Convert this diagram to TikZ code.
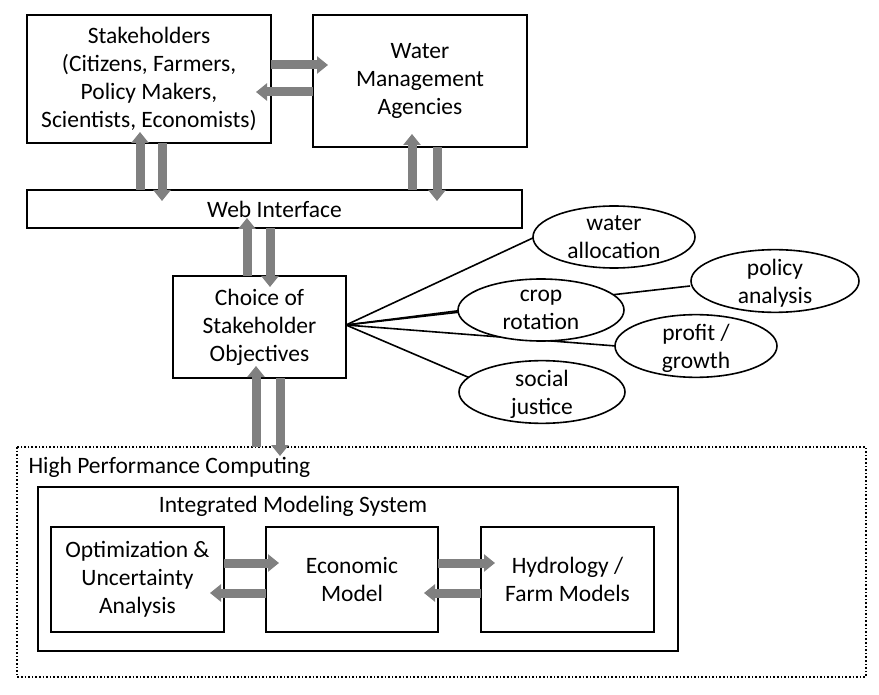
\documentclass[tikz,border=0pt]{standalone}
\usepackage{fontspec}
\setmainfont{Carlito}
\usetikzlibrary{shapes.geometric,arrows.meta,positioning,calc}
\tikzset{
  box/.style={draw,line width=1.6pt,align=center},
  goal/.style={draw,fill=white,ellipse,line width=1.6pt,minimum width=162pt,minimum height=62pt,align=center,inner sep=0pt,text depth=-2pt},
  fat/.style={line width=9pt,draw=black!50,-{Triangle[width=17pt,length=11pt]}},
}
\begin{document}
\begin{tikzpicture}[x=1pt,y=-1pt,font=\fontsize{23.5}{28}\selectfont]
            \useasboundingbox (0,0) rectangle (879,695);
            % boxes on top
            \node[box,minimum width=244pt,minimum height=128pt] (stake) at (149,79) {Stakeholders\\(Citizens, Farmers,\\Policy Makers,\\Scientists, Economists)};
            \node[box,minimum width=214pt,minimum height=132pt] (water) at (420,81) {Water\\Management\\Agencies};
            \node[box,minimum width=495pt,minimum height=38pt] (web) at (274.5,209) {Web Interface};
            \node[box,minimum width=173pt,minimum height=102pt] (choice) at (259.5,327) {Choice of\\Stakeholder\\Objectives};

            % objectives
            \coordinate (hub) at (346,325);
            \draw[line width=1.6pt] (hub) -- (535,237);
            \draw[line width=1.6pt] (hub) -- (690,286);
            \draw[line width=1.6pt] (hub) -- (480,308);
            \draw[line width=1.6pt] (hub) -- (616,346);
            \draw[line width=1.6pt] (hub) -- (470,378);
            \node[goal] (alloc) at (614,237) {water\\allocation};
            \node[goal,minimum width=168pt] (policy) at (775,281) {policy\\analysis};
            \node[goal,minimum width=166pt] (crop) at (541,310) {crop\\rotation};
            \node[goal] (profit) at (696,346) {profit /\\growth};
            \node[goal,minimum width=166pt] (social) at (542,392) {social\\justice};

            % computing part
            \draw[line width=1.6pt,dotted] (17,447) rectangle (866,677);
            \node[anchor=west] (hpc) at (25,467) {High Performance Computing};
            \draw[line width=1.6pt] (38,487) rectangle (678,651);
            \node (ims) at (293,506) {Integrated Modeling System};
            \node[box,minimum width=173pt,minimum height=105pt] (opt) at (137.5,579.5) {Optimization \&\\Uncertainty\\Analysis};
            \node[box,minimum width=172pt,minimum height=105pt] (econ) at (352,579.5) {Economic\\Model};
            \node[box,minimum width=173pt,minimum height=105pt] (hydro) at (567.5,579.5) {Hydrology /\\Farm Models};

            % block arrows
            \draw[fat] (271,65) -- (328,65);
            \draw[fat] (313,92) -- (256,92);
            \draw[fat] (140,190) -- (140,132);
            \draw[fat] (162,143) -- (162,201);
            \draw[fat] (412,190) -- (412,134);
            \draw[fat] (437,147) -- (437,201);
            \draw[fat] (247,276) -- (247,218);
            \draw[fat] (270,228) -- (270,287);
            \draw[fat] (256,447) -- (256,366);
            \draw[fat] (280,378) -- (280,456);
            \draw[fat] (224,563) -- (279,563);
            \draw[fat] (266,593) -- (210,593);
            \draw[fat] (438,563) -- (495,563);
            \draw[fat] (481,593) -- (424,593);
\end{tikzpicture}
\end{document}
